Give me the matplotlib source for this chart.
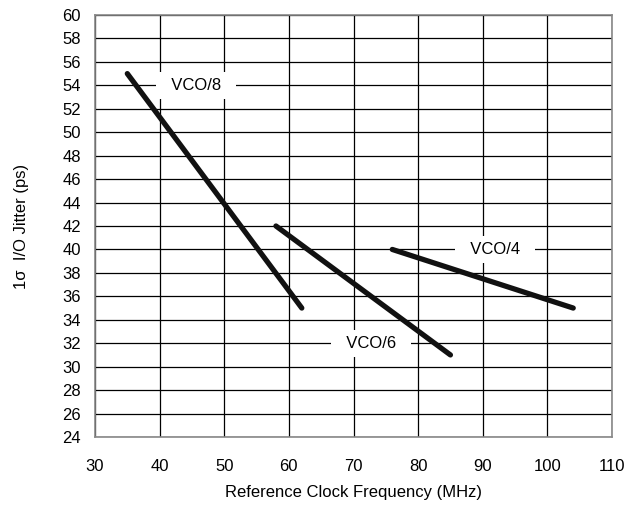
import matplotlib
matplotlib.use("Agg")
import matplotlib.pyplot as plt

plt.rcParams['font.family'] = ['Liberation Sans', 'DejaVu Sans']

series_names = ["VCO/8", "VCO/6", "VCO/4"]
series_x = [[35, 62], [58, 85], [76, 104]]
series_y = [[55, 35], [42, 31], [40, 35]]
label_pos = [(45.6, 54), (72.7, 32), (91.9, 40)]
x_ticks = [30, 40, 50, 60, 70, 80, 90, 100, 110]
y_ticks = list(range(24, 61, 2))

fig = plt.figure(figsize=(6.26, 5.18), dpi=100)
ax = fig.add_axes([95/626, 1-437/518, (612-95)/626, (437-15)/518])
ax.set_xlim(30, 110)
ax.set_ylim(24, 60)
ax.set_xticks(x_ticks)
ax.set_yticks(y_ticks)
ax.grid(True, color='black', linewidth=0.9)
ax.set_axisbelow(True)
ax.tick_params(axis='y', length=0, labelsize=12, pad=10)
ax.tick_params(axis='x', length=0, labelsize=12, pad=16)
for s in ax.spines.values():
    s.set_color('#888888')
    s.set_linewidth(1.2)

for name, xs, ys, (lx, ly) in zip(series_names, series_x, series_y, label_pos):
    ax.plot(xs, ys, color='#111111', linewidth=3.8, solid_capstyle='round', zorder=3)
    ax.text(lx, ly, "  " + name + "  ", ha='center', va='center', fontsize=12, zorder=4,
            bbox=dict(boxstyle='square,pad=0.35', facecolor='white', edgecolor='none'))

ax.set_xlabel("Reference Clock Frequency (MHz)", fontsize=12, labelpad=8)
ax.set_ylabel("1σ  I/O Jitter (ps)", fontsize=12, labelpad=24)

fig.savefig("out.png", dpi=100)
